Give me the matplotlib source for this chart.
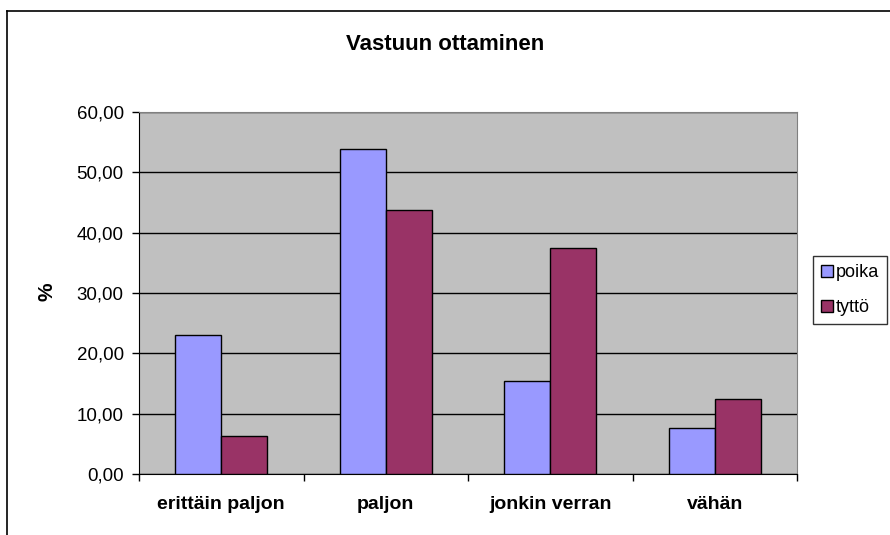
import numpy as np
import matplotlib.pyplot as plt
from matplotlib.lines import Line2D
from matplotlib.ticker import FuncFormatter

plt.rcParams['font.family'] = ['Liberation Sans', 'DejaVu Sans']

# Data
categories = ['erittäin paljon', 'paljon', 'jonkin verran', 'vähän']
poika = [23.08, 53.85, 15.38, 7.69]
tytto = [6.25, 43.75, 37.50, 12.50]
series_names = ['poika', 'tyttö']
colors = ['#9999FF', '#993366']

fig = plt.figure(figsize=(8.9, 5.35), dpi=100)
ax = fig.add_axes([139 / 890, 1 - 474 / 535, 658 / 890, 362 / 535])
ax.set_facecolor('#C0C0C0')

x = np.arange(len(categories))
w = 0.28
ax.bar(x - w / 2, poika, w, color=colors[0], edgecolor='black', linewidth=1, zorder=3)
ax.bar(x + w / 2, tytto, w, color=colors[1], edgecolor='black', linewidth=1, zorder=3)

ax.set_xlim(-0.5, len(categories) - 0.5)
ax.set_ylim(0, 60)
ax.set_yticks(np.arange(0, 61, 10))
ax.yaxis.set_major_formatter(FuncFormatter(lambda v, p: f'{v:.2f}'.replace('.', ',')))
ax.grid(axis='y', color='black', linewidth=1, zorder=1)
ax.set_axisbelow(True)

# category labels centered, ticks at category boundaries
ax.set_xticks(np.arange(-0.5, len(categories), 1))
ax.set_xticklabels([])
ax.set_xticks(x, minor=True)
ax.set_xticklabels(categories, minor=True, fontsize=14, fontweight='bold')
ax.tick_params(axis='x', which='minor', length=0, pad=16)
ax.tick_params(axis='x', which='major', length=5, width=1, direction='out')
ax.tick_params(axis='y', length=5, width=1, direction='out', labelsize=13.5, pad=6)

for s in ['top', 'right']:
    ax.spines[s].set_color('#808080')
for s in ['left', 'bottom']:
    ax.spines[s].set_color('black')

fig.text(47 / 890, 1 - 292 / 535, '%', rotation=90, ha='center', va='center',
         fontsize=15, fontweight='bold')
fig.text(0.5, 1 - 44 / 535, 'Vastuun ottaminen', ha='center', va='center',
         fontsize=16, fontweight='bold')

handles = [Line2D([], [], marker='s', linestyle='none', markersize=8,
                  markerfacecolor=c, markeredgecolor='black') for c in colors]
leg = fig.legend(handles, series_names, loc='upper left',
                 bbox_to_anchor=(813 / 890, 1 - 256 / 535), fontsize=13,
                 frameon=True, fancybox=False, handletextpad=0.1,
                 handlelength=0.7, borderpad=0.45, labelspacing=1.0,
                 borderaxespad=0)
leg.get_frame().set_edgecolor('black')
leg.get_frame().set_linewidth(1)

# outer chart border (partially visible)
fig.add_artist(Line2D([7 / 890, 7 / 890], [0, 1 - 11 / 535], color='black', linewidth=1.2,
                      transform=fig.transFigure))
fig.add_artist(Line2D([7 / 890, 1], [1 - 11 / 535, 1 - 11 / 535], color='black', linewidth=1.2,
                      transform=fig.transFigure))

fig.savefig('out.png', dpi=100)
